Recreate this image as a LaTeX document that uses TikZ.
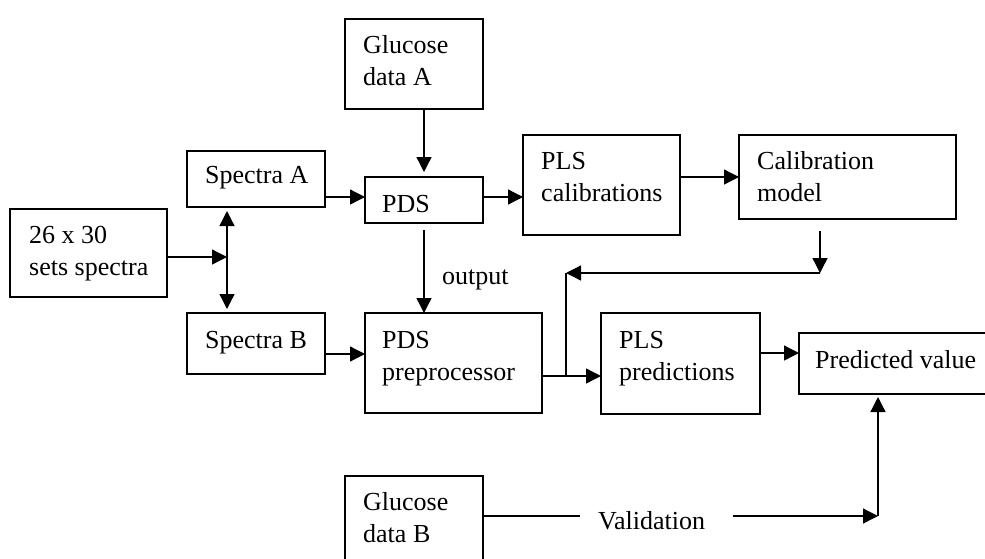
\documentclass[tikz,border=0pt]{standalone}
\usepackage{fontspec}
\setmainfont{Liberation Serif}
\usetikzlibrary{arrows.meta,calc}

% first-line baseline for two-line labels
\newcommand\twoln[2]{\vtop{\baselineskip=32.5pt\hbox{#1}\hbox{#2}}}

\begin{document}
\begin{tikzpicture}[x=1pt,y=-1pt,
  box/.style={draw, line width=1.3pt, inner sep=0pt, outer sep=0pt},
  lbl/.style={inner sep=0pt, anchor=base west, font=\fontsize{26pt}{32.5pt}\selectfont},
  wire/.style={line width=1.3pt},
  arr/.style={wire, -{Triangle[length=15pt,width=15pt]}},
  arrboth/.style={wire, {Triangle[length=15pt,width=15pt]}-{Triangle[length=15pt,width=15pt]}}]

\useasboundingbox (0,0) rectangle (985,558);
\fill[white] (0,0) rectangle (985,558);
\clip (0,0) rectangle (985,558);

% ---- boxes ----
\node[box, minimum width=138pt, minimum height=90pt]  (gA)   at (414,64)      {};
\node[box, minimum width=138pt, minimum height=56pt]  (sA)   at (256,179)     {};
\node[box, minimum width=118pt, minimum height=46pt]  (pds)  at (424,200)     {};
\node[box, minimum width=157pt, minimum height=88pt]  (ts)   at (88.5,253)    {};
\node[box, minimum width=138pt, minimum height=61pt]  (sB)   at (256,343.5)   {};
\node[box, minimum width=177pt, minimum height=100pt] (ppre) at (453.5,363)   {};
\node[box, minimum width=138pt, minimum height=90pt]  (gB)   at (414,521)     {};
\node[box, minimum width=157pt, minimum height=100pt] (plsc) at (601.5,185)   {};
\node[box, minimum width=217pt, minimum height=84pt]  (calm) at (847.5,177)   {};
\node[box, minimum width=159pt, minimum height=101pt] (plsp) at (680.5,363.5) {};
\node[box, minimum width=193pt, minimum height=61pt]  (pv)   at (895.5,363.5) {};

% ---- box texts ----
\node[lbl] (gA-t)   at (363,53)  {\twoln{Glucose}{data A}};
\node[lbl] (sA-t)   at (205,183) {Spectra A};
\node[lbl] (pds-t)  at (382,212) {PDS};
\node[lbl] (ts-t)   at (29,243)  {\twoln{26 x 30}{sets spectra}};
\node[lbl] (sB-t)   at (205,348) {Spectra B};
\node[lbl] (ppre-t) at (382,348) {\twoln{PDS}{preprocessor}};
\node[lbl] (gB-t)   at (363,510) {\twoln{Glucose}{data B}};
\node[lbl] (plsc-t) at (541,169) {\twoln{PLS}{calibrations}};
\node[lbl] (calm-t) at (757,169) {\twoln{Calibration}{model}};
\node[lbl] (plsp-t) at (619,348) {\twoln{PLS}{predictions}};
\node[lbl] (pv-t)   at (815,368) {Predicted value};
\node[lbl] (out)    at (442,284) {output};
\node[lbl] (val)    at (598,529) {Validation};

% ---- junctions and bends ----
\coordinate (jn)  at (227,257);
\coordinate (fbR) at (820,273);
\coordinate (fbL) at (566,273);
\coordinate (cV)  at (878,516);
\coordinate (jn2) at ([yshift=-13pt]ppre.east -| fbL);

% ---- connectors ----
\draw[arr] (ts.east |- jn) -- (jn);
\draw[arrboth, shorten <=4pt, shorten >=4pt] (jn |- sA.south) -- (jn |- sB.north);
\draw[arr, shorten >=5pt] (pds.north |- gA.south) -- (pds.north);
\draw[arr] ([yshift=3pt]pds.west -| sA.east) -- ([yshift=3pt]pds.west);
\draw[arr] ([yshift=-10.5pt]sB.east) -- ([yshift=-10.5pt]sB.east -| ppre.west);
\draw[arr, shorten <=7pt] (pds.south) -- (pds.south |- ppre.north);
\draw[arr] ([yshift=3pt]pds.east) -- ([yshift=3pt]pds.east -| plsc.west);
\draw[arr] (calm.west -| plsc.east) -- (calm.west);
\draw[arr, shorten <=12pt] (fbR |- calm.south) -- (fbR);
\draw[arr] (fbR) -- (fbL);
\draw[wire] (jn2) -- (fbL);
\draw[arr] ([yshift=-13pt]ppre.east) -- ([yshift=-13pt]ppre.east -| plsp.west);
\draw[arr] ([yshift=10.5pt]plsp.east) -- ([yshift=10.5pt]plsp.east -| pv.west);
\draw[wire] ([yshift=5pt]gB.east) -- ([xshift=-18pt]val.west |- cV);
\draw[arr] ([xshift=28pt]val.east |- cV) -- (cV);
\draw[arr, shorten >=3pt] (cV) -- (cV |- pv.south);
\end{tikzpicture}
\end{document}
